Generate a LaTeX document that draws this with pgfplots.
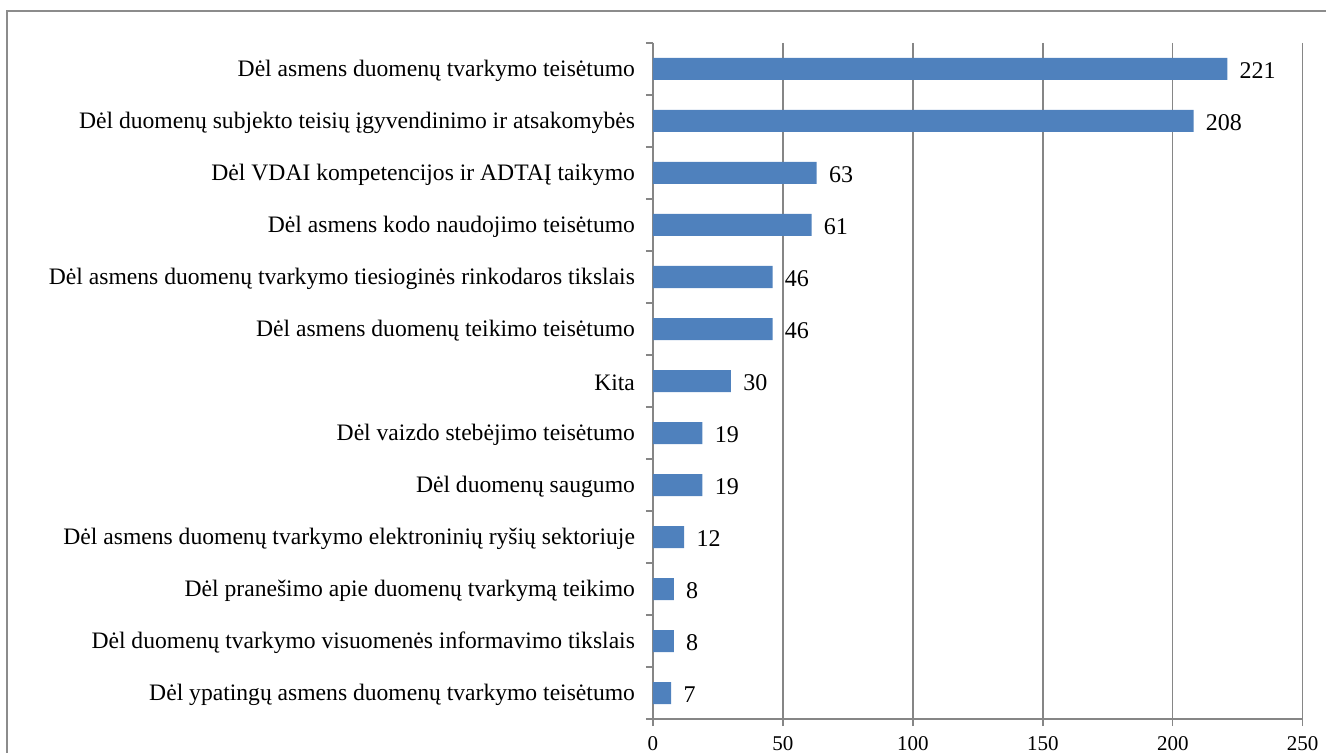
\documentclass[border=0pt]{standalone}
\usepackage{fontspec}
\setmainfont{Liberation Serif}
\usepackage{pgfplots}
\pgfplotsset{compat=1.18}
\definecolor{barblue}{HTML}{4F81BD}
\definecolor{gridgray}{HTML}{868686}
\definecolor{framegray}{HTML}{8C8C8C}
\begin{document}
\begin{tikzpicture}
\begin{axis}[
  at={(0,0)}, anchor=south west,
  scale only axis, width=324.85pt, height=338pt,
  xbar, bar width=11pt,
  xmin=0, xmax=250, xtick={0,50,...,250},
  ymin=-0.5, ymax=12.5, y dir=reverse,
  ytick={-0.5,0.5,1.5,2.5,3.5,4.5,5.5,6.5,7.5,8.5,9.5,10.5,11.5,12.5},
  yticklabels={Dėl asmens duomenų tvarkymo teisėtumo,
    Dėl duomenų subjekto teisių įgyvendinimo ir atsakomybės,
    Dėl VDAI kompetencijos ir ADTAĮ taikymo,
    Dėl asmens kodo naudojimo teisėtumo,
    Dėl asmens duomenų tvarkymo tiesioginės rinkodaros tikslais,
    Dėl asmens duomenų teikimo teisėtumo,
    Kita,
    Dėl vaizdo stebėjimo teisėtumo,
    Dėl duomenų saugumo,
    Dėl asmens duomenų tvarkymo elektroninių ryšių sektoriuje,
    Dėl pranešimo apie duomenų tvarkymą teikimo,
    Dėl duomenų tvarkymo visuomenės informavimo tikslais,
    Dėl ypatingų asmens duomenų tvarkymo teisėtumo,{}},
  yticklabel style={yshift=-14pt, font=\fontsize{11.8pt}{13pt}\selectfont, xshift=-2pt},
  xticklabel style={font=\fontsize{10.5pt}{12pt}\selectfont, inner sep=0pt, yshift=-5.3pt},
  /pgf/number format/assume math mode=true,
  axis x line*=bottom, axis y line*=left,
  axis line style={gridgray, line width=0.7pt, -},
  tick align=outside, major tick length=3.5pt,
  tick style={gridgray, line width=0.7pt},
  xmajorgrids, grid style={gridgray, line width=0.7pt},
  nodes near coords,
  every node near coord/.append style={font=\fontsize{12pt}{14pt}\selectfont, anchor=west, inner sep=0pt, xshift=6pt, yshift=-1pt, black},
]
\addplot[fill=barblue, draw=none] coordinates {
(221,0) (208,1) (63,2) (61,3) (46,4) (46,5) (30,6) (19,7) (19,8) (12,9) (8,10) (8,11) (7,12)};
\end{axis}
\draw[framegray, line width=0.7pt] (-323pt,-20pt) -- (-323pt,354pt) -- (340pt,354pt);
\pgfresetboundingbox
\useasboundingbox (-326.5pt,-17pt) rectangle (336.5pt,359.5pt);
\end{tikzpicture}
\end{document}
